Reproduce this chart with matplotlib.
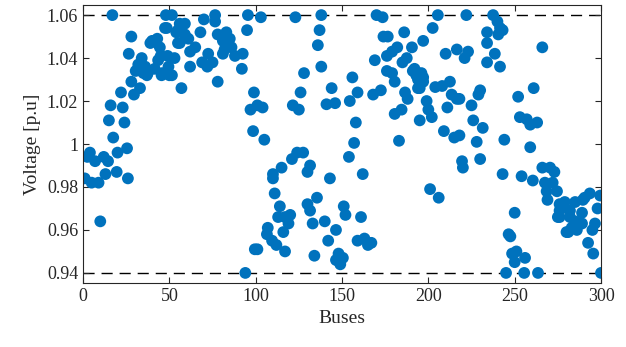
import numpy as np
import matplotlib.pyplot as plt

plt.rcParams['font.family'] = ['Liberation Serif', 'DejaVu Serif']

# barras e tensões (p.u)
barras = [
    1, 2.5, 4, 5, 7, 9, 10, 12, 13, 14.5, 15, 16, 17, 17.5, 19.5, 20, 22, 23, 24, 25.5,
    26, 26.5, 28, 28, 29.5, 30.5, 32, 33, 34, 35, 36, 37, 37.5, 39, 40, 41.5, 43, 43.5,
    44.5, 45, 45.5, 46, 47.5, 48, 48.5, 49, 49.5, 50,
    51.5, 51.5, 53, 54, 55, 55, 56, 56, 57, 59, 59, 61, 62, 62, 65, 68, 69, 70, 72, 72.5,
    75, 76.5, 76.5, 78, 78, 81, 81, 82, 83, 85, 86, 88, 92, 92.5, 94, 95, 95.5, 97, 98.5,
    99, 99.5,
    101, 101, 103, 104, 105, 106.5, 107, 109.5, 110, 110, 111, 112, 113, 114, 115, 116,
    117, 117, 119, 120, 121, 121.5, 123, 124, 125, 126, 127.5, 128, 130, 130, 131.5,
    131.5, 133, 134, 135.5, 136, 137, 138, 138, 140, 141, 142, 143, 144, 146, 146.5,
    146.5, 148, 149, 150.5,
    151, 152, 154, 154.5, 156, 157, 158, 159, 159, 161, 162, 163, 165, 167, 168, 169,
    170, 172.5, 173.5, 174, 176.5, 176, 179, 182, 176, 179, 180.5, 180.5, 183, 184.5,
    185, 186, 186.5, 187.5, 188, 190.5, 191, 192, 193, 194, 194, 194, 195, 195, 196, 197,
    197, 197, 199, 200,
    201, 202, 202.5, 204, 205.5, 206, 208, 209, 210, 211, 212.5, 213.5, 215, 216.5,
    216.5, 218, 218, 219.5, 220, 221, 222, 223, 225, 226, 228, 229, 230, 230, 231.5, 234,
    234, 234, 237.5, 238.5, 240, 240.5, 241.5, 241.5, 243, 243, 244, 245, 246.5, 247.5,
    248.5, 250, 250, 251,
    252, 253, 254, 255.5, 256, 257, 259, 259, 260.5, 261, 263, 263.5, 266, 266, 267.5,
    268.5, 269, 270.5, 272, 273, 274.5, 275, 276, 278, 280, 282, 283, 285, 285, 286, 289,
    289, 289.5, 293.5, 292.5, 295, 295.5, 296.5, 298, 299.5, 300,
    276, 279, 276, 282, 281, 285, 288, 290.5,
]
tensoes = [
    0.984, 0.994, 0.996, 0.982, 0.992, 0.982, 0.964, 0.994, 0.986, 0.992, 1.011, 1.018,
    1.060, 1.003, 0.987, 0.996, 1.024, 1.017, 1.010, 0.998,
    0.984, 1.042, 1.050, 1.029, 1.023, 1.034, 1.037, 1.026, 1.040, 1.033, 1.036, 1.032,
    1.033, 1.047, 1.048, 1.035, 1.049, 1.039,
    1.045, 1.041, 1.032, 1.033, 1.054, 1.060, 1.054, 1.041, 1.036, 1.032,
    1.060, 1.032, 1.040, 1.052, 1.053, 1.047, 1.056, 1.047, 1.026, 1.056, 1.051, 1.049,
    1.043, 1.036, 1.045, 1.052, 1.038, 1.058, 1.036, 1.042,
    1.038, 1.060, 1.057, 1.029, 1.051, 1.048, 1.042, 1.044, 1.052, 1.049, 1.045, 1.041,
    1.035, 1.042, 0.940, 1.053, 1.060, 1.016, 1.006,
    1.024, 0.951,
    1.018, 0.951, 1.059, 1.017, 1.002, 0.958, 0.961, 0.955, 0.986, 0.984, 0.977, 0.953,
    0.966, 0.971, 0.989, 0.959,
    0.966, 0.950, 0.963, 0.967, 0.993, 1.018, 1.059, 0.996, 1.016, 1.024, 0.996, 1.033,
    0.987, 0.972, 0.990,
    0.969, 0.963, 0.948, 0.975, 1.046, 1.053, 1.060, 1.036, 0.964, 1.0185, 0.955, 0.984,
    1.026, 1.019, 0.960,
    0.946, 0.949, 0.944, 0.947,
    0.971, 0.967, 0.994, 1.020, 1.031, 1.0005, 1.010, 1.024, 0.955, 0.966, 0.986, 0.956,
    0.953, 0.954, 1.023, 1.039,
    1.060, 1.025, 1.059, 1.050, 1.050, 1.041, 1.043, 1.045, 1.034, 1.033, 1.029, 1.014,
    1.0015, 1.016,
    1.038, 1.052, 1.024, 1.040, 1.021, 1.045, 1.034, 1.035, 1.032, 1.033, 1.030, 1.026,
    1.026, 1.011, 1.033, 1.031,
    1.029, 1.048, 1.020, 1.016,
    0.979, 1.0125, 1.054, 1.0265, 1.060, 0.975, 1.027, 1.006, 1.042, 1.017, 1.029, 1.023,
    1.003, 1.044,
    1.021, 1.021, 1.004, 0.992, 0.989, 1.040, 1.060, 1.043, 1.018, 1.011, 1.001, 1.023,
    1.025, 0.993, 1.0075, 1.052,
    1.047, 1.038, 1.060, 1.042, 1.057, 1.051, 1.054, 1.036, 1.053, 0.986, 1.002, 0.940,
    0.958, 0.957,
    0.949, 0.968, 0.945, 0.950,
    1.022, 1.0125, 0.985, 0.940, 0.947, 1.0115, 1.009, 0.9985, 0.983, 1.026, 1.010, 0.940,
    1.045, 0.989, 0.982,
    0.978, 0.974, 0.989, 0.982, 0.987, 0.978, 0.966, 0.969, 0.972, 0.959, 0.966, 0.961,
    0.973, 0.964, 0.960, 0.968,
    0.963, 0.974, 0.977, 0.954, 0.960, 0.949, 0.963, 0.970, 0.976, 0.940,
    0.972, 0.973, 0.966, 0.969, 0.959, 0.961, 0.963, 0.975,
]

limite_sup = 1.06
limite_inf = 0.94

x_ticks = [0, 50, 100, 150, 200, 250, 300]
y_ticks = [0.94, 0.96, 0.98, 1.0, 1.02, 1.04, 1.06]
y_labels = ['0.94', '0.96', '0.98', '1', '1.02', '1.04', '1.06']

fig = plt.figure(figsize=(6.26, 3.47), dpi=100)
ax = fig.add_axes([0.1326, 0.1844, 0.8275, 0.8012])

ax.axhline(limite_sup, color='k', linestyle=(0, (8, 5)), linewidth=1.0, zorder=1)
ax.axhline(limite_inf, color='k', linestyle=(0, (8, 5)), linewidth=1.0, zorder=1)
ax.scatter(barras, tensoes, s=72, color='#0072BD', edgecolors='none', zorder=2)

ax.set_xlim(0, 300)
ax.set_ylim(0.9353, 1.0647)
ax.set_xticks(x_ticks)
ax.set_yticks(y_ticks)
ax.set_yticklabels(y_labels)
ax.tick_params(direction='in', top=True, right=True, labelsize=13,
               colors='#262626', length=4, width=0.8)
for lado in ax.spines.values():
    lado.set_color('#262626')
    lado.set_linewidth(0.8)

ax.set_xlabel('Buses', fontsize=14, color='#262626', labelpad=4)
ax.set_ylabel('Voltage [p.u]', fontsize=14, color='#262626', labelpad=4)

fig.savefig('out.png', dpi=100)
